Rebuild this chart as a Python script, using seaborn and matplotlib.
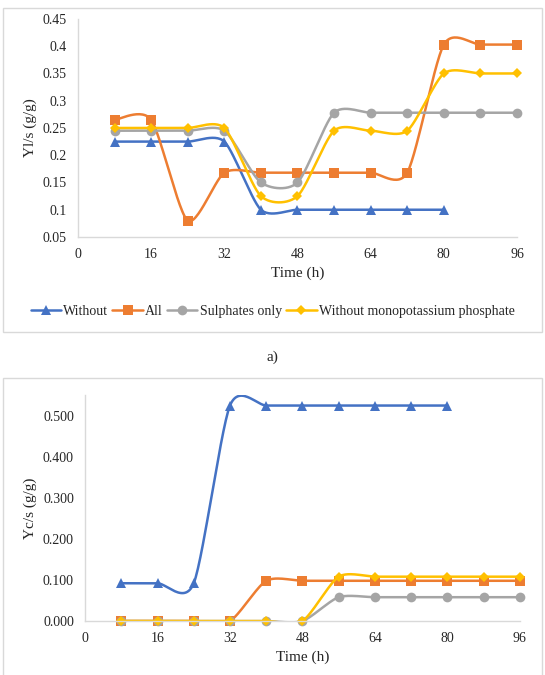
import matplotlib
matplotlib.use('Agg')
import matplotlib.pyplot as plt
import matplotlib.patches as patches
from matplotlib.lines import Line2D
from matplotlib.ticker import FuncFormatter, MultipleLocator
import numpy as np
import pandas as pd
import seaborn as sns

# time points (h)
hours = [8, 16, 24, 32, 40, 48, 56, 64, 72, 80, 88, 96]

series_names = ['Without', 'All', 'Sulphates only', 'Without monopotassium phosphate']

# a) Yl/s (g/g)
yls_without = [0.225, 0.225, 0.225, 0.225, 0.1, 0.1, 0.1, 0.1, 0.1, 0.1]
yls_all = [0.265, 0.265, 0.08, 0.168, 0.168, 0.168, 0.168, 0.168, 0.168, 0.403, 0.403, 0.403]
yls_sulphates = [0.245, 0.245, 0.245, 0.245, 0.15, 0.15, 0.278, 0.278, 0.278, 0.278, 0.278, 0.278]
yls_no_kh2po4 = [0.25, 0.25, 0.25, 0.25, 0.125, 0.125, 0.245, 0.245, 0.245, 0.35, 0.35, 0.35]

# b) Yc/s (g/g)
ycs_without = [0.092, 0.092, 0.092, 0.525, 0.525, 0.525, 0.525, 0.525, 0.525, 0.525]
ycs_all = [0.0, 0.0, 0.0, 0.0, 0.098, 0.098, 0.098, 0.098, 0.098, 0.098, 0.098, 0.098]
ycs_sulphates = [0.0, 0.0, 0.0, 0.0, 0.0, 0.0, 0.058, 0.058, 0.058, 0.058, 0.058, 0.058]
ycs_no_kh2po4 = [0.0, 0.0, 0.0, 0.0, 0.0, 0.0, 0.108, 0.108, 0.108, 0.108, 0.108, 0.108]

colors = ['#4472C4', '#ED7D31', '#A5A5A5', '#FFC000']
markers = ['^', 's', 'o', 'D']
msizes = [7, 7, 7, 5]


def smooth(xs, ys, k=8.0, n=30):
    # Excel-like smoothed line (bezier through the points)
    p = np.column_stack([xs, ys]).astype(float)
    p = np.vstack([p[0], p, p[-1]])
    out = []
    for i in range(1, len(p) - 2):
        p0, p1, p2, p3 = p[i - 1], p[i], p[i + 1], p[i + 2]
        b1 = p1 + (p2 - p0) / k
        b2 = p2 - (p3 - p1) / k
        t = np.linspace(0, 1, n)[:, None]
        seg = ((1 - t) ** 3) * p1 + 3 * ((1 - t) ** 2) * t * b1 + 3 * (1 - t) * t ** 2 * b2 + t ** 3 * p2
        out.append(seg if i == 1 else seg[1:])
    out = np.vstack(out)
    return out[:, 0], out[:, 1]


def draw_panel(ax, data):
    for i, ys in enumerate(data):
        xs = hours[:len(ys)]
        sx, sy = smooth(xs, ys)
        curve = pd.DataFrame({'x': sx, 'y': sy})
        sns.lineplot(data=curve, x='x', y='y', ax=ax, color=colors[i], lw=1.8,
                     sort=False, estimator=None)
        pts = pd.DataFrame({'x': xs, 'y': ys})
        sns.lineplot(data=pts, x='x', y='y', ax=ax, color=colors[i], lw=0,
                     marker=markers[i], markersize=msizes[i], markeredgewidth=0,
                     estimator=None, clip_on=False)
    ax.set_xlim(0, 96)
    ax.xaxis.set_major_locator(MultipleLocator(16))
    for s in ['top', 'right']:
        ax.spines[s].set_visible(False)
    for s in ['left', 'bottom']:
        ax.spines[s].set_color('#d9d9d9')
        ax.spines[s].set_linewidth(1.0)
    ax.tick_params(length=0, labelsize=10, pad=8)
    ax.set_xlabel('Time (h)', fontsize=11)


sns.set_style('white')
plt.rcParams['font.family'] = ['Liberation Serif', 'DejaVu Serif']

fig = plt.figure(figsize=(5.45, 6.75), dpi=100)

# panel frames
fig.patches.append(patches.Rectangle((0.006, 0.508), 0.988, 0.48, transform=fig.transFigure,
                                     fill=False, edgecolor='#d9d9d9', lw=1.0))
fig.patches.append(patches.Rectangle((0.006, -0.02), 0.988, 0.46, transform=fig.transFigure,
                                     fill=False, edgecolor='#d9d9d9', lw=1.0))

# a)
ax1 = fig.add_axes([0.1431, 0.6489, 0.8055, 0.323])
draw_panel(ax1, [yls_without, yls_all, yls_sulphates, yls_no_kh2po4])
ax1.set_ylim(0.05, 0.45)
ax1.yaxis.set_major_locator(MultipleLocator(0.05))
ax1.yaxis.set_major_formatter(FuncFormatter(lambda v, p: '%g' % round(v, 2)))
ax1.set_ylabel('Yl/s (g/g)', fontsize=11)

handles = [Line2D([0], [0], color=colors[i], lw=1.8, marker=markers[i],
                  markersize=msizes[i], markeredgewidth=0) for i in range(4)]
fig.legend(handles, series_names, loc='center', bbox_to_anchor=(0.5, 0.539), ncol=4,
           frameon=False, fontsize=10, handlelength=2.2, handletextpad=0.15, columnspacing=0.3)

fig.text(0.5, 0.471, 'a)', ha='center', va='center', fontsize=11)

# b)
ax2 = fig.add_axes([0.156, 0.08, 0.798, 0.335])
draw_panel(ax2, [ycs_without, ycs_all, ycs_sulphates, ycs_no_kh2po4])
ax2.set_ylim(0, 0.551)
ax2.yaxis.set_major_locator(MultipleLocator(0.1))
ax2.yaxis.set_major_formatter(FuncFormatter(lambda v, p: '%.3f' % v))
ax2.set_ylabel('Yc/s (g/g)', fontsize=11)

fig.savefig('out.png', dpi=100)
